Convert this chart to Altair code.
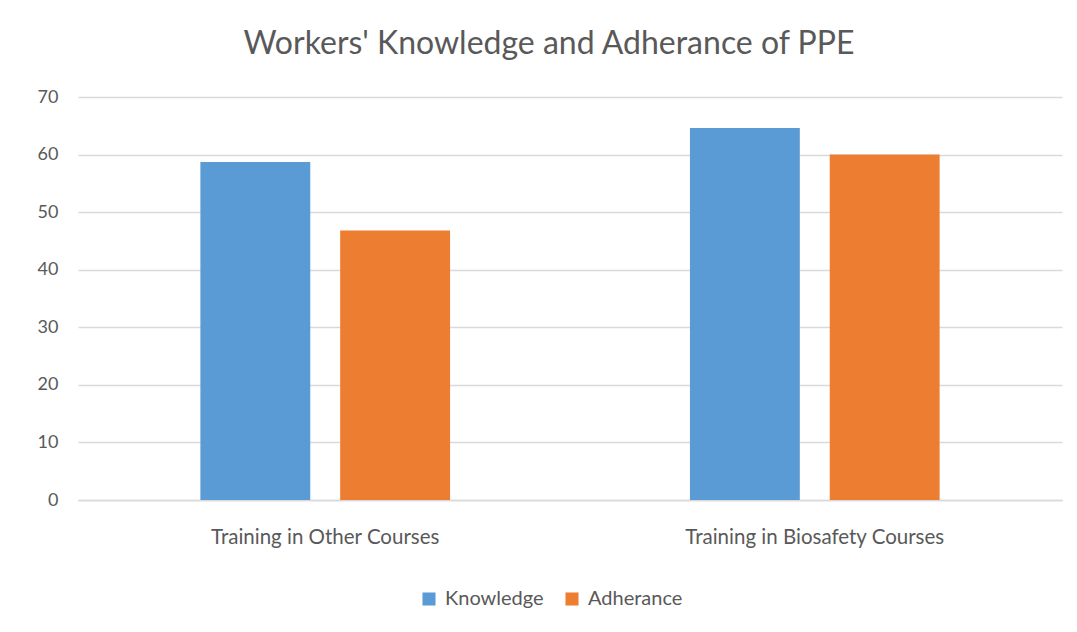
import altair as alt
import pandas as pd

categories = ["Training in Other Courses", "Training in Biosafety Courses"]
series = ["Knowledge", "Adherance"]
knowledge = [58.7, 64.6]
adherance = [46.8, 60.0]
colors = ["#5B9BD5", "#ED7D31"]
y_ticks = [0, 10, 20, 30, 40, 50, 60, 70]

rows = []
for i, c in enumerate(categories):
    rows.append({"category": c, "series": "Knowledge", "value": knowledge[i]})
    rows.append({"category": c, "series": "Adherance", "value": adherance[i]})
df = pd.DataFrame(rows)

FONT = "Lato, Liberation Sans, Arial, sans-serif"
TXT = "#595959"

chart = alt.Chart(df).mark_bar().encode(
    x=alt.X("category:N", sort=categories, title=None,
            scale=alt.Scale(paddingInner=0.49, paddingOuter=0.25),
            axis=alt.Axis(labelAngle=0, labelFontSize=20.5, labelColor=TXT, labelFont=FONT,
                          labelPadding=27, labelLimit=0, ticks=False, domain=True,
                          domainColor="#D9D9D9", domainWidth=1.5, grid=False)),
    xOffset=alt.XOffset("series:N", sort=series,
                        scale=alt.Scale(paddingInner=0.214, paddingOuter=0)),
    y=alt.Y("value:Q", title=None,
            scale=alt.Scale(domain=[0, 70], nice=False),
            axis=alt.Axis(values=y_ticks, labelFontSize=18, labelColor=TXT, labelFont=FONT,
                          labelPadding=20, ticks=False, domain=False,
                          gridColor="#D9D9D9", gridWidth=1.5)),
    color=alt.Color("series:N", sort=series,
                    scale=alt.Scale(domain=series, range=colors),
                    legend=alt.Legend(title=None, orient="none", direction="horizontal",
                                      legendX=341, legendY=492, symbolType="square",
                                      symbolSize=170, symbolStrokeWidth=0,
                                      labelFontSize=20, labelColor=TXT, labelFont=FONT,
                                      labelOffset=6, columnPadding=18)),
).properties(
    width=984,
    height=403,
    title=alt.Title("Workers' Knowledge and Adherance of PPE", fontSize=32,
                    font=FONT, color=TXT, fontWeight="normal",
                    anchor="middle", dx=-21, offset=27),
    autosize=alt.AutoSizeParams(type="none"),
    padding={"left": 70, "top": 89, "right": 4, "bottom": 120},
).configure(background="white").configure_view(strokeWidth=0, stroke=None)

chart.save("out.html", embed_options={"renderer": "svg", "actions": False})
